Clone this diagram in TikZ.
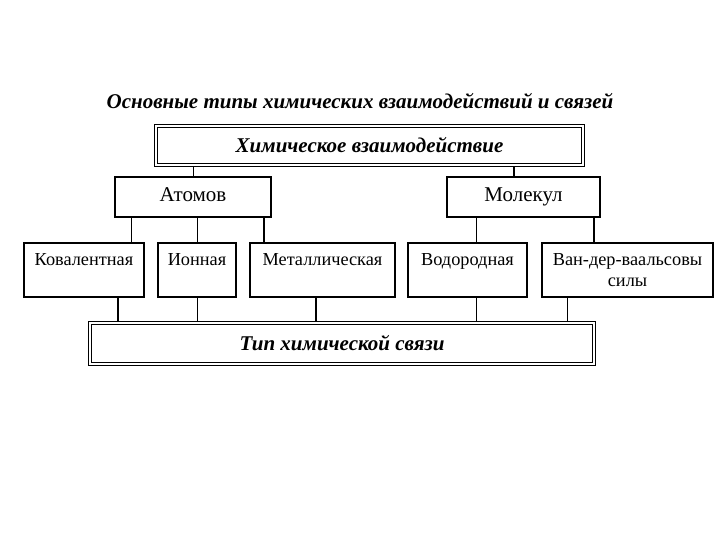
\documentclass[tikz,border=0pt]{standalone}
\usepackage{fontspec}
\setmainfont{Liberation Serif}
\usetikzlibrary{positioning}

\begin{document}
\begin{tikzpicture}[x=1pt, y=-1pt,
        box/.style={draw, line width=1.4pt, inner sep=0pt, font=\fontsize{18.3}{21}\selectfont},
        group/.style={box, minimum height=40pt, text height=11pt, text depth=1pt, font=\fontsize{21}{24}\selectfont},
        cell/.style={box, minimum height=54pt, align=center},
        frame/.style={draw, double, double distance=1.7pt, line width=1.1pt, inner sep=0pt, font=\fontsize{21}{24}\selectfont\bfseries\itshape},
        thin/.style={line width=0.8pt},
        thk/.style={line width=1.6pt}
    ]
        \useasboundingbox (0,0) rectangle (720,540);

        % Title
        \node[font=\fontsize{21}{24}\selectfont\bfseries\itshape] (title) at (360,101) {Основные типы химических взаимодействий и связей};

        % Upper levels
        \node[frame, minimum width=427pt, minimum height=39pt] (chem) at (369.5,145.5) {Химическое взаимодействие};
        \node[group, minimum width=156pt] (atoms) at (193,197) {Атомов};
        \node[group, minimum width=153pt] (mols) at (523.5,197) {Молекул};
        \draw[thin] (atoms.north) -- (atoms.north |- chem.south);
        \draw[thk] ([xshift=-9.5pt]mols.north) -- ([xshift=-9.5pt]mols.north |- chem.south);

        % Bond kinds
        \node[cell, minimum width=120pt] (cov) at (84,270) {Ковалентная\\\phantom{силы}};
        \node[cell, minimum width=78pt] (ion) at (197,270) {Ионная\\\phantom{силы}};
        \node[cell, minimum width=145pt] (met) at (322.5,270) {Металлическая\\\phantom{силы}};
        \node[cell, minimum width=119pt] (hyd) at (467.5,270) {Водородная\\\phantom{силы}};
        \node[cell, minimum width=171pt] (vdw) at (627.5,270) {Ван-дер-ваальсовы\\силы};
        \draw[thin] ([xshift=-62pt]atoms.south) -- ([xshift=-62pt]atoms.south |- cov.north);
        \draw[thin] ([xshift=4pt]atoms.south) -- ([xshift=4pt]atoms.south |- ion.north);
        \draw[thk] ([xshift=71pt]atoms.south) -- ([xshift=71pt]atoms.south |- met.north);
        \draw[thin] ([xshift=-47.5pt]mols.south) -- ([xshift=-47.5pt]mols.south |- hyd.north);
        \draw[thk] ([xshift=70.5pt]mols.south) -- ([xshift=70.5pt]mols.south |- vdw.north);

        % Bond type
        \node[frame, minimum width=504pt, minimum height=41pt] (kind) at (342,343.5) {Тип химической связи};
        \draw[thk] ([xshift=34pt]cov.south) -- ([xshift=34pt]cov.south |- kind.north);
        \draw[thin] (ion.south) -- (ion.south |- kind.north);
        \draw[thk] ([xshift=-6.5pt]met.south) -- ([xshift=-6.5pt]met.south |- kind.north);
        \draw[thin] ([xshift=8.5pt]hyd.south) -- ([xshift=8.5pt]hyd.south |- kind.north);
        \draw[thin] ([xshift=-60.5pt]vdw.south) -- ([xshift=-60.5pt]vdw.south |- kind.north);
    \end{tikzpicture}
\end{document}
